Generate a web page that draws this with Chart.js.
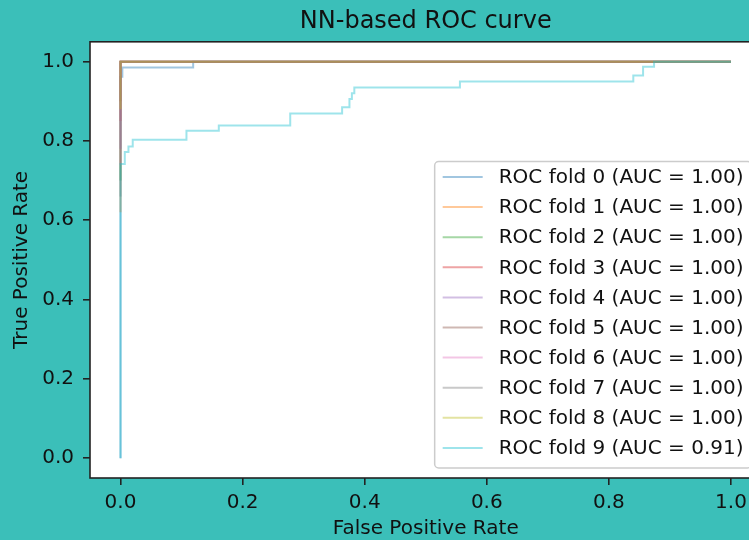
<!DOCTYPE html>
<html>
<head>
<meta charset="utf-8">
<script src="https://cdn.jsdelivr.net/npm/chart.js@4.4.1/dist/chart.umd.min.js"></script>
<style>
    html, body { margin: 0; padding: 0; background: #3bbfb9; overflow: hidden; }
    #frame { width: 749px; height: 540px; overflow: hidden; }
    #wrap { position: relative; width: 790px; height: 540px; }
</style>
</head>
<body>
<div id="frame"><div id="wrap"><canvas id="rocChart"></canvas></div></div>
<script>
const foldLabels = [
    'ROC fold 0 (AUC = 1.00)',
    'ROC fold 1 (AUC = 1.00)',
    'ROC fold 2 (AUC = 1.00)',
    'ROC fold 3 (AUC = 1.00)',
    'ROC fold 4 (AUC = 1.00)',
    'ROC fold 5 (AUC = 1.00)',
    'ROC fold 6 (AUC = 1.00)',
    'ROC fold 7 (AUC = 1.00)',
    'ROC fold 8 (AUC = 1.00)',
    'ROC fold 9 (AUC = 0.91)'
];

// false / true positive rates per fold
const fpr0 = [0, 0, 0.003, 0.003, 0.119, 0.119, 1];
const tpr0 = [0, 0.962, 0.962, 0.985, 0.985, 1, 1];
const fpr1 = [0, 0, 1];
const tpr1 = [0.62, 1, 1];
const fpr2 = [0, 0, 1];
const tpr2 = [0.70, 1, 1];
const fpr3 = [0, 0, 1];
const tpr3 = [0.85, 1, 1];
const fpr4 = [0, 0, 1];
const tpr4 = [0.78, 1, 1];
const fpr5 = [0, 0, 1];
const tpr5 = [0.90, 1, 1];
const fpr6 = [0, 0, 1];
const tpr6 = [0.74, 1, 1];
const fpr7 = [0, 0, 1];
const tpr7 = [0.66, 1, 1];
const fpr8 = [0, 0, 1];
const tpr8 = [0.88, 1, 1];
const fpr9 = [0, 0, 0.007, 0.007, 0.013, 0.013, 0.02, 0.02, 0.108, 0.108, 0.161, 0.161, 0.278, 0.278,
    0.363, 0.363, 0.375, 0.375, 0.379, 0.379, 0.383, 0.383, 0.556, 0.556, 0.840, 0.840, 0.856, 0.856,
    0.874, 0.874, 1];
const tpr9 = [0, 0.742, 0.742, 0.772, 0.772, 0.786, 0.786, 0.803, 0.803, 0.826, 0.826, 0.839, 0.839, 0.869,
    0.869, 0.885, 0.885, 0.906, 0.906, 0.920, 0.920, 0.935, 0.935, 0.950, 0.950, 0.965, 0.965, 0.987,
    0.987, 1, 1];

const xTickValues = [0, 0.2, 0.4, 0.6, 0.8, 1.0];
const yTickValues = [0, 0.2, 0.4, 0.6, 0.8, 1.0];

// tab10, semi-transparent
const foldColors = [
    'rgba(31,119,180,0.42)', 'rgba(255,127,14,0.42)', 'rgba(44,160,44,0.42)', 'rgba(214,39,40,0.42)',
    'rgba(148,103,189,0.42)', 'rgba(140,86,75,0.42)', 'rgba(227,119,194,0.42)', 'rgba(127,127,127,0.42)',
    'rgba(188,189,34,0.42)', 'rgba(23,190,207,0.42)'
];

const FONT = '"DejaVu Sans", "Liberation Sans", sans-serif';
const TEXT = '#111111';

const folds = [[fpr0, tpr0], [fpr1, tpr1], [fpr2, tpr2], [fpr3, tpr3], [fpr4, tpr4],
    [fpr5, tpr5], [fpr6, tpr6], [fpr7, tpr7], [fpr8, tpr8], [fpr9, tpr9]];

let datasets = folds.map(([fpr, tpr], i) => ({
    label: foldLabels[i],
    data: fpr.map((x, k) => ({ x: x, y: tpr[k] })),
    borderColor: foldColors[i],
    backgroundColor: foldColors[i],
    borderWidth: 2,
    pointRadius: 0,
    showLine: true,
    fill: false,
    tension: 0,
    order: folds.length - i
}));

// white axes face, black spines, matplotlib-like legend
const mplFrame = {
    id: 'mplFrame',
    beforeDraw(chart) {
        const a = chart.chartArea;
        chart.ctx.save();
        chart.ctx.fillStyle = '#ffffff';
        chart.ctx.fillRect(a.left, a.top, a.right - a.left, a.bottom - a.top);
        chart.ctx.restore();
    },
    afterDatasetsDraw(chart) {
        const a = chart.chartArea;
        const ctx = chart.ctx;
        ctx.save();
        ctx.strokeStyle = '#222222';
        ctx.lineWidth = 1.6;
        ctx.strokeRect(a.left, a.top, a.right - a.left, a.bottom - a.top);
        ctx.restore();
    },
    afterDraw(chart) {
        const a = chart.chartArea;
        const ctx = chart.ctx;
        const ds = chart.data.datasets;
        ctx.save();
        ctx.font = '20px ' + FONT;
        let textW = Math.max(...ds.map(d => ctx.measureText(d.label).width));
        const rowH = 30.1;
        const boxW = 8 + 40 + 16 + textW + 8;
        const boxH = rowH * ds.length + 5.5;
        const right = a.right - 10, bottom = a.bottom - 10;
        const left = right - boxW, top = bottom - boxH;
        ctx.beginPath();
        ctx.roundRect(left, top, boxW, boxH, 4);
        ctx.fillStyle = 'rgba(255,255,255,0.8)';
        ctx.fill();
        ctx.strokeStyle = '#cccccc';
        ctx.lineWidth = 1.5;
        ctx.stroke();
        ds.forEach((d, i) => {
            const cy = top + 15.5 + i * rowH;
            ctx.beginPath();
            ctx.moveTo(left + 8, cy);
            ctx.lineTo(left + 48, cy);
            ctx.strokeStyle = d.borderColor;
            ctx.lineWidth = 2;
            ctx.stroke();
            ctx.fillStyle = TEXT;
            ctx.textBaseline = 'middle';
            ctx.textAlign = 'left';
            ctx.fillText(d.label, left + 64, cy + 1);
        });
        ctx.restore();
    }
};

const tickGrid = {
    drawOnChartArea: false,
    drawTicks: true,
    tickLength: 7,
    color: '#222222',
    lineWidth: 1.6
};

new Chart('rocChart', {
    type: 'scatter',
    data: { datasets: datasets },
    plugins: [mplFrame],
    options: {
        responsive: true,
        maintainAspectRatio: false,
        animation: false,
        layout: { padding: { left: 0, top: 0, right: 28.5, bottom: 0 } },
        plugins: {
            legend: { display: false },
            tooltip: { enabled: false },
            title: {
                display: true,
                text: 'NN-based ROC curve',
                fullSize: false,
                color: TEXT,
                font: { family: FONT, size: 24, weight: 'normal', lineHeight: 1.2 },
                padding: { top: 7, bottom: 6 }
            }
        },
        scales: {
            x: {
                type: 'linear',
                min: -0.05,
                max: 1.05,
                afterBuildTicks: s => { s.ticks = xTickValues.map(v => ({ value: v })); },
                afterFit: s => { s.height = 62; },
                ticks: {
                    callback: v => v.toFixed(1),
                    color: TEXT,
                    font: { family: FONT, size: 20 },
                    padding: 6,
                    maxRotation: 0,
                    autoSkip: false
                },
                grid: tickGrid,
                border: { display: false },
                title: {
                    display: true,
                    text: 'False Positive Rate',
                    color: TEXT,
                    font: { family: FONT, size: 20, lineHeight: 1.1 },
                    padding: { top: 0, bottom: 0 }
                }
            },
            y: {
                type: 'linear',
                min: -0.05,
                max: 1.05,
                afterBuildTicks: s => { s.ticks = yTickValues.map(v => ({ value: v })); },
                afterFit: s => { s.width = 90; },
                ticks: {
                    callback: v => v.toFixed(1),
                    color: TEXT,
                    font: { family: FONT, size: 20 },
                    padding: 9,
                    autoSkip: false
                },
                grid: tickGrid,
                border: { display: false },
                title: {
                    display: true,
                    text: 'True Positive Rate',
                    color: TEXT,
                    font: { family: FONT, size: 20, lineHeight: 1.2 },
                    padding: { top: 10, bottom: 0 }
                }
            }
        }
    }
});
</script>
</body>
</html>
